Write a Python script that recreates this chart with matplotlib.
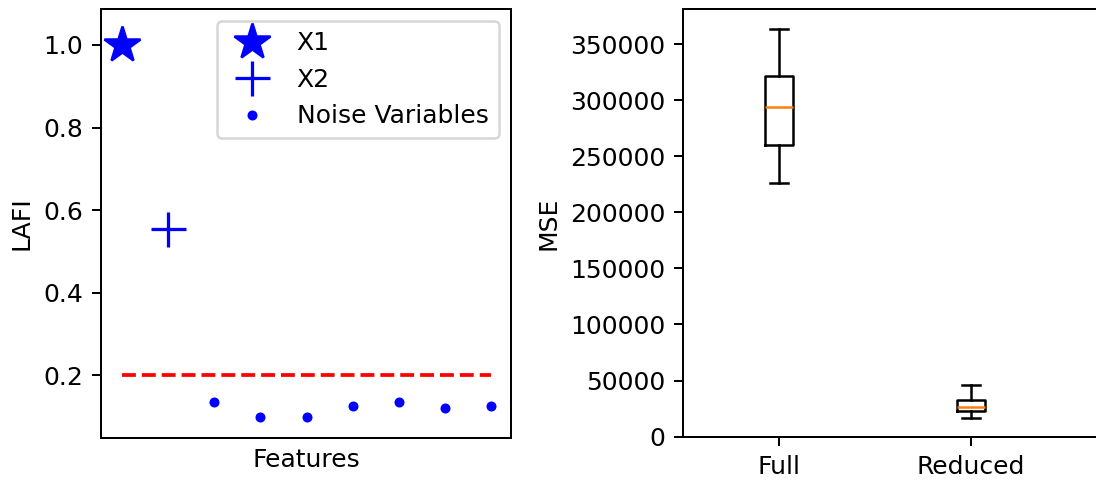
import matplotlib
matplotlib.use("Agg")
import matplotlib.pyplot as plt

# LAFI values
x1_pos, x1_val = 1, 1.0
x2_pos, x2_val = 2, 0.553
noise_pos = [3, 4, 5, 6, 7, 8, 9]
noise_val = [0.135, 0.099, 0.099, 0.125, 0.135, 0.120, 0.125]
threshold = 0.2

# MSE box statistics (whislo, q1, med, q3, whishi)
box_labels = ['Full', 'Reduced']
full_stats = [226000, 260000, 294000, 321500, 363500]
reduced_stats = [16900, 23200, 26700, 33000, 46300]

dpi = 180
fig = plt.figure(figsize=(1096/dpi, 480/dpi), dpi=dpi)

ax1 = fig.add_axes([101/1096, 1 - 438/480, 410/1096, 429/480])
ax1.plot([x1_pos], [x1_val], '*', c='blue', markersize=15, label='X1')
ax1.plot([x2_pos], [x2_val], '+', c='blue', markersize=14, markeredgewidth=1.3, label='X2')
ax1.plot(noise_pos, noise_val, '.', c='blue', label='Noise Variables')
ax1.plot([x1_pos, noise_pos[-1]], [threshold, threshold], '--', c='red', linewidth=1.5)
ax1.set_xlim(0.545, 9.43)
ax1.set_ylim(0.048, 1.087)
ax1.set_xticks([])
ax1.set_xlabel('Features')
ax1.set_ylabel('LAFI')
ax1.legend(loc='upper right')

ax2 = fig.add_axes([683/1096, 1 - 437/480, 450/1096, 428/480])
stats = []
for lab, s in zip(box_labels, [full_stats, reduced_stats]):
    stats.append({'label': lab, 'whislo': s[0], 'q1': s[1], 'med': s[2],
                  'q3': s[3], 'whishi': s[4], 'fliers': []})
ax2.bxp(stats, widths=0.15, capwidths=0.09)
ax2.set_xlim(0.5, 0.5 + 450/192)
ax2.set_ylim(-350, 381300)
ax2.set_ylabel('MSE')

fig.savefig('out.png', dpi=dpi)
